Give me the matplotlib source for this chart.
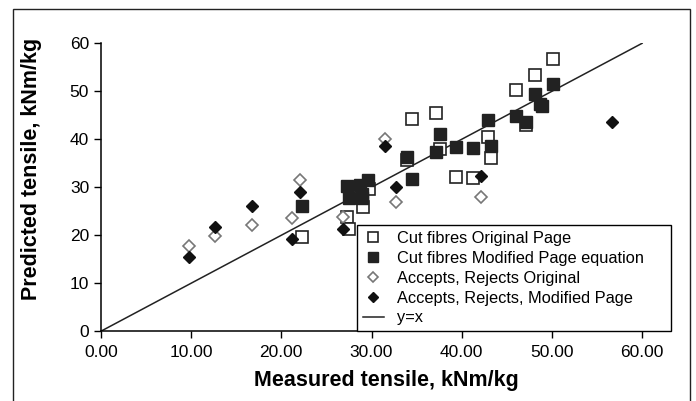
import matplotlib.pyplot as plt
from matplotlib.patches import Rectangle

plt.rcParams['font.family'] = ['Liberation Sans', 'DejaVu Sans']

# Cut fibres, original Page equation
cut_orig_x = [22.3, 27.3, 27.5, 29.1, 29.7, 33.9, 34.5, 37.1, 37.6, 39.4, 41.3,
              42.9, 43.2, 46.0, 47.1, 48.1, 50.1]
cut_orig_y = [19.7, 23.9, 21.4, 25.8, 29.6, 35.6, 44.2, 45.5, 38.0, 32.1, 31.9,
              40.5, 36.2, 50.3, 43.0, 53.4, 56.7]

# Cut fibres, modified Page equation
cut_mod_x = [22.3, 27.3, 27.5, 28.7, 29.6, 29.0, 28.9, 33.9, 34.5, 37.1, 37.6,
             39.4, 41.3, 42.9, 43.2, 46.0, 47.1, 48.1, 48.7, 48.9, 50.1]
cut_mod_y = [26.2, 30.3, 27.7, 30.5, 31.5, 28.7, 27.7, 36.3, 31.7, 37.3, 41.0,
             38.3, 38.1, 44.0, 38.5, 44.9, 43.7, 49.4, 47.4, 47.0, 51.5]

# Accepts / rejects, original
ar_orig_x = [9.8, 12.7, 16.8, 21.2, 22.1, 26.8, 31.5, 32.7, 42.1]
ar_orig_y = [17.8, 19.8, 22.1, 23.5, 31.6, 23.9, 40.0, 26.9, 28.0]

# Accepts / rejects, modified
ar_mod_x = [9.8, 12.7, 16.8, 21.2, 22.1, 26.8, 31.5, 32.7, 42.1, 56.7]
ar_mod_y = [15.5, 21.8, 26.0, 19.2, 29.0, 21.4, 38.5, 30.0, 32.4, 43.5]

line_x = [0, 60]
line_y = [0, 60]

fig = plt.figure(figsize=(6.96, 4.01), dpi=100)
ax = fig.add_axes([0.145, 0.174, 0.819, 0.718])

ax.plot(cut_orig_x, cut_orig_y, 's', ms=9, mfc='white', mec='#222222', mew=1.2,
        label='Cut fibres Original Page', zorder=3)
ax.plot(cut_mod_x, cut_mod_y, 's', ms=9, mfc='#222222', mec='#222222', mew=1,
        label='Cut fibres Modified Page equation', zorder=4)
ax.plot(ar_orig_x, ar_orig_y, 'D', ms=6.5, mfc='white', mec='#777777', mew=1.2,
        label='Accepts, Rejects Original', zorder=3)
ax.plot(ar_mod_x, ar_mod_y, 'D', ms=6.5, mfc='#111111', mec='#111111', mew=1,
        label='Accepts, Rejects, Modified Page', zorder=4)
ax.plot(line_x, line_y, '-', color='#222222', lw=1.1, label='y=x', zorder=2)

ax.set_xlim(0, 63.2)
ax.set_ylim(0, 60)
ax.set_xticks(range(0, 61, 10))
ax.set_xticklabels(['%.2f' % v for v in range(0, 61, 10)])
ax.set_yticks(range(0, 61, 10))
ax.spines['top'].set_visible(False)
ax.spines['right'].set_visible(False)
ax.spines['left'].set_linewidth(1.1)
ax.spines['bottom'].set_linewidth(1.1)
ax.tick_params(direction='out', length=5, width=1, labelsize=12.5)
ax.tick_params(axis='x', pad=5)

ax.set_xlabel('Measured tensile, kNm/kg', fontsize=15.5, fontweight='bold', labelpad=7)
ax.set_ylabel('Predicted tensile, kNm/kg', fontsize=15.5, fontweight='bold')
ax.yaxis.set_label_coords(-0.104, 0.5625)

leg = ax.legend(loc='lower left', bbox_to_anchor=(0.449, 0.0, 0.551, 0.37),
                mode='expand', borderaxespad=0,
                fontsize=11.8, fancybox=False, framealpha=1, edgecolor='black',
                handlelength=1.3, handletextpad=0.8, labelspacing=0.3,
                borderpad=0.35, markerscale=0.75)
leg.get_frame().set_linewidth(1.0)
leg.set_zorder(5)

fig.patches.append(Rectangle((0.019, -0.05), 0.973, 1.028, transform=fig.transFigure,
                             fill=False, edgecolor='#222222', lw=1.0))

fig.savefig('out.png', dpi=100)
